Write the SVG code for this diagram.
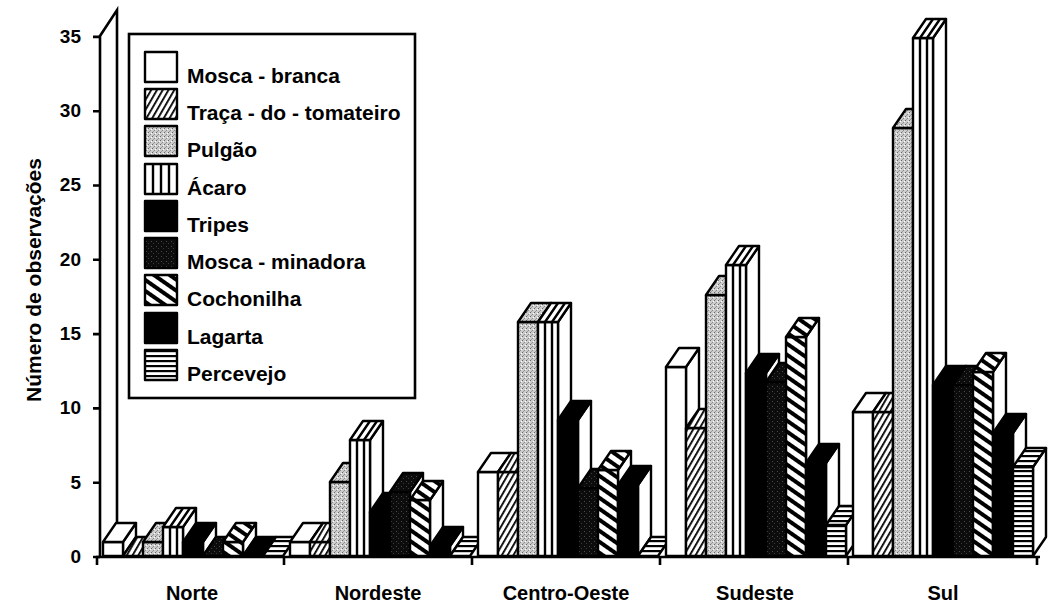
<svg xmlns="http://www.w3.org/2000/svg" width="1053" height="607" viewBox="0 0 1053 607">
<style>
text{font-family:"Liberation Sans",Arial,sans-serif;font-weight:bold;fill:#000}
.bar{stroke:#000;stroke-width:2.4;stroke-linejoin:round}
.sd{fill:#fff}
.mb{fill:#fff}
.tr{fill:url(#pT)}
.pu{fill:url(#pP)}
.ac{fill:#fff}
.tp{fill:#000}
.mm{fill:url(#pM)}
.co{fill:url(#pC)}
.lg{fill:#000}
.pe{fill:url(#pH)}
.ax{stroke:#000;stroke-width:2.6;fill:none}
.tick{font-size:19px;text-anchor:end}
.cat{font-size:20px;text-anchor:middle}
.leg{font-size:21px}
</style>
<defs>
<pattern id="pT" width="5" height="5" patternUnits="userSpaceOnUse" patternTransform="rotate(30)"><rect width="5" height="5" fill="#fff"/><rect width="1.8" height="5" fill="#000"/></pattern>
<pattern id="pC" width="9" height="9" patternUnits="userSpaceOnUse" patternTransform="rotate(35)"><rect width="9" height="9" fill="#fff"/><rect width="9" height="4" fill="#000"/></pattern>
<pattern id="pH" width="5" height="5" patternUnits="userSpaceOnUse"><rect width="5" height="5" fill="#fff"/><rect width="5" height="2.2" fill="#000"/></pattern>
<pattern id="pP" width="4" height="4" patternUnits="userSpaceOnUse"><rect width="4" height="4" fill="#cdcdcd"/><rect x="0" y="0" width="1" height="1" fill="#666"/><rect x="2" y="2" width="1" height="1" fill="#888"/><rect x="3" y="1" width="1" height="1" fill="#fff"/><rect x="1" y="3" width="1" height="1" fill="#999"/></pattern>
<pattern id="pM" width="5" height="5" patternUnits="userSpaceOnUse"><rect width="5" height="5" fill="#0c0c0c"/><rect x="1" y="1" width="1" height="1" fill="#4a4a4a"/><rect x="3" y="3" width="1" height="1" fill="#3a3a3a"/></pattern>
</defs>
<rect width="1053" height="607" fill="#fff"/>

<g id="axes">
<path class="ax" d="M100,557 V36 L117,10 V537"/>
<path class="ax" d="M93,36.9 H100 M93,111.2 H100 M93,185.5 H100 M93,259.8 H100 M93,334.1 H100 M93,408.4 H100 M93,482.7 H100 M93,557 H100"/>
<text class="tick" x="81" y="43">35</text>
<text class="tick" x="81" y="117">30</text>
<text class="tick" x="81" y="191">25</text>
<text class="tick" x="81" y="266">20</text>
<text class="tick" x="81" y="340">15</text>
<text class="tick" x="81" y="414">10</text>
<text class="tick" x="81" y="489">5</text>
<text class="tick" x="81" y="563">0</text>
<text font-size="21" text-anchor="middle" transform="translate(41,280) rotate(-90)">Número de observações</text>
</g>

<g id="legend">
<rect x="129" y="34" width="286" height="364" fill="#fff" stroke="#000" stroke-width="2.6"/>
<g class="bar">
<rect class="mb" x="145" y="52" width="32" height="30"/>
<rect class="tr" x="145" y="89" width="32" height="30"/>
<rect class="pu" x="145" y="126" width="32" height="30"/>
<rect class="ac" x="145" y="164" width="32" height="30"/>
<path d="M153,164V194 M161,164V194 M169,164V194"/>
<rect class="tp" x="145" y="201" width="32" height="30"/>
<rect class="mm" x="145" y="238" width="32" height="30"/>
<rect class="co" x="145" y="275" width="32" height="30"/>
<rect class="lg" x="145" y="313" width="32" height="30"/>
<rect class="pe" x="145" y="350" width="32" height="30"/>
</g>
<text class="leg" x="187" y="83">Mosca - branca</text>
<text class="leg" x="187" y="120">Traça - do - tomateiro</text>
<text class="leg" x="187" y="157">Pulgão</text>
<text class="leg" x="187" y="195">Ácaro</text>
<text class="leg" x="187" y="232">Tripes</text>
<text class="leg" x="187" y="269">Mosca - minadora</text>
<text class="leg" x="187" y="306">Cochonilha</text>
<text class="leg" x="187" y="344">Lagarta</text>
<text class="leg" x="187" y="381">Percevejo</text>
</g>

<!-- Norte -->
<g id="norte-mosca-branca" class="bar" transform="translate(103,0)"><polygon class="sd" points="20,542 33,523 33,537 20,556"/><rect class="mb" x="0" y="542" width="20" height="14"/><polygon class="mb" points="0,542 20,542 33,523 13,523"/></g>
<g id="norte-traca" class="bar" transform="translate(123,0)"><polygon class="tr" points="0,556 20,556 33,537 13,537"/></g>
<g id="norte-pulgao" class="bar" transform="translate(143,0)"><polygon class="sd" points="20,542 33,523 33,537 20,556"/><rect class="pu" x="0" y="542" width="20" height="14"/><polygon class="pu" points="0,542 20,542 33,523 13,523"/></g>
<g id="norte-acaro" class="bar" transform="translate(163,0)"><polygon class="sd" points="20,527 33,508 33,537 20,556"/><rect class="ac" x="0" y="527" width="20" height="29"/><polygon class="ac" points="0,527 20,527 33,508 13,508"/><path d="M7,527V556M14,527V556M7,527L20,508M14,527L27,508"/></g>
<g id="norte-tripes" class="bar" transform="translate(183,0)"><polygon class="sd" points="20,542 33,523 33,537 20,556"/><rect class="tp" x="0" y="542" width="20" height="14"/><polygon class="tp" points="0,542 20,542 33,523 13,523"/></g>
<g id="norte-mosca-minadora" class="bar" transform="translate(203,0)"><polygon class="mm" points="0,556 20,556 33,537 13,537"/></g>
<g id="norte-cochonilha" class="bar" transform="translate(223,0)"><polygon class="sd" points="20,542 33,523 33,537 20,556"/><rect class="co" x="0" y="542" width="20" height="14"/><polygon class="co" points="0,542 20,542 33,523 13,523"/></g>
<g id="norte-lagarta" class="bar" transform="translate(243,0)"><polygon class="lg" points="0,556 20,556 33,537 13,537"/></g>
<g id="norte-percevejo" class="bar" transform="translate(263,0)"><polygon class="pe" points="0,556 20,556 33,537 13,537"/></g>

<!-- Nordeste -->
<g id="nordeste-mosca-branca" class="bar" transform="translate(290,0)"><polygon class="sd" points="20,542 33,523 33,537 20,556"/><rect class="mb" x="0" y="542" width="20" height="14"/><polygon class="mb" points="0,542 20,542 33,523 13,523"/></g>
<g id="nordeste-traca" class="bar" transform="translate(310,0)"><polygon class="sd" points="20,542 33,523 33,537 20,556"/><rect class="tr" x="0" y="542" width="20" height="14"/><polygon class="tr" points="0,542 20,542 33,523 13,523"/></g>
<g id="nordeste-pulgao" class="bar" transform="translate(330,0)"><polygon class="sd" points="20,482 33,463 33,537 20,556"/><rect class="pu" x="0" y="482" width="20" height="74"/><polygon class="pu" points="0,482 20,482 33,463 13,463"/></g>
<g id="nordeste-acaro" class="bar" transform="translate(350,0)"><polygon class="sd" points="20,440 33,421 33,537 20,556"/><rect class="ac" x="0" y="440" width="20" height="116"/><polygon class="ac" points="0,440 20,440 33,421 13,421"/><path d="M7,440V556M14,440V556M7,440L20,421M14,440L27,421"/></g>
<g id="nordeste-tripes" class="bar" transform="translate(370,0)"><polygon class="sd" points="20,512 33,493 33,537 20,556"/><rect class="tp" x="0" y="512" width="20" height="44"/><polygon class="tp" points="0,512 20,512 33,493 13,493"/></g>
<g id="nordeste-mosca-minadora" class="bar" transform="translate(390,0)"><polygon class="sd" points="20,492 33,473 33,537 20,556"/><rect class="mm" x="0" y="492" width="20" height="64"/><polygon class="mm" points="0,492 20,492 33,473 13,473"/></g>
<g id="nordeste-cochonilha" class="bar" transform="translate(410,0)"><polygon class="sd" points="20,500 33,481 33,537 20,556"/><rect class="co" x="0" y="500" width="20" height="56"/><polygon class="co" points="0,500 20,500 33,481 13,481"/></g>
<g id="nordeste-lagarta" class="bar" transform="translate(430,0)"><polygon class="sd" points="20,546 33,527 33,537 20,556"/><rect class="lg" x="0" y="546" width="20" height="10"/><polygon class="lg" points="0,546 20,546 33,527 13,527"/></g>
<g id="nordeste-percevejo" class="bar" transform="translate(450,0)"><polygon class="pe" points="0,556 20,556 33,537 13,537"/></g>

<!-- Centro-Oeste -->
<g id="co-mosca-branca" class="bar" transform="translate(478,0)"><polygon class="sd" points="20,472 33,453 33,537 20,556"/><rect class="mb" x="0" y="472" width="20" height="84"/><polygon class="mb" points="0,472 20,472 33,453 13,453"/></g>
<g id="co-traca" class="bar" transform="translate(498,0)"><polygon class="sd" points="20,472 33,453 33,537 20,556"/><rect class="tr" x="0" y="472" width="20" height="84"/><polygon class="tr" points="0,472 20,472 33,453 13,453"/></g>
<g id="co-pulgao" class="bar" transform="translate(518,0)"><polygon class="sd" points="20,322 33,303 33,537 20,556"/><rect class="pu" x="0" y="322" width="20" height="234"/><polygon class="pu" points="0,322 20,322 33,303 13,303"/></g>
<g id="co-acaro" class="bar" transform="translate(538,0)"><polygon class="sd" points="20,322 33,303 33,537 20,556"/><rect class="ac" x="0" y="322" width="20" height="234"/><polygon class="ac" points="0,322 20,322 33,303 13,303"/><path d="M7,322V556M14,322V556M7,322L20,303M14,322L27,303"/></g>
<g id="co-tripes" class="bar" transform="translate(558,0)"><polygon class="sd" points="20,420 33,401 33,537 20,556"/><rect class="tp" x="0" y="420" width="20" height="136"/><polygon class="tp" points="0,420 20,420 33,401 13,401"/></g>
<g id="co-mosca-minadora" class="bar" transform="translate(578,0)"><polygon class="sd" points="20,488 33,469 33,537 20,556"/><rect class="mm" x="0" y="488" width="20" height="68"/><polygon class="mm" points="0,488 20,488 33,469 13,469"/></g>
<g id="co-cochonilha" class="bar" transform="translate(598,0)"><polygon class="sd" points="20,470 33,451 33,537 20,556"/><rect class="co" x="0" y="470" width="20" height="86"/><polygon class="co" points="0,470 20,470 33,451 13,451"/></g>
<g id="co-lagarta" class="bar" transform="translate(618,0)"><polygon class="sd" points="20,485 33,466 33,537 20,556"/><rect class="lg" x="0" y="485" width="20" height="71"/><polygon class="lg" points="0,485 20,485 33,466 13,466"/></g>
<g id="co-percevejo" class="bar" transform="translate(638,0)"><polygon class="pe" points="0,556 20,556 33,537 13,537"/></g>

<!-- Sudeste -->
<g id="se-mosca-branca" class="bar" transform="translate(666,0)"><polygon class="sd" points="20,367 33,348 33,537 20,556"/><rect class="mb" x="0" y="367" width="20" height="189"/><polygon class="mb" points="0,367 20,367 33,348 13,348"/></g>
<g id="se-traca" class="bar" transform="translate(686,0)"><polygon class="sd" points="20,428 33,409 33,537 20,556"/><rect class="tr" x="0" y="428" width="20" height="128"/><polygon class="tr" points="0,428 20,428 33,409 13,409"/></g>
<g id="se-pulgao" class="bar" transform="translate(706,0)"><polygon class="sd" points="20,295 33,276 33,537 20,556"/><rect class="pu" x="0" y="295" width="20" height="261"/><polygon class="pu" points="0,295 20,295 33,276 13,276"/></g>
<g id="se-acaro" class="bar" transform="translate(726,0)"><polygon class="sd" points="20,265 33,246 33,537 20,556"/><rect class="ac" x="0" y="265" width="20" height="291"/><polygon class="ac" points="0,265 20,265 33,246 13,246"/><path d="M7,265V556M14,265V556M7,265L20,246M14,265L27,246"/></g>
<g id="se-tripes" class="bar" transform="translate(746,0)"><polygon class="sd" points="20,373 33,354 33,537 20,556"/><rect class="tp" x="0" y="373" width="20" height="183"/><polygon class="tp" points="0,373 20,373 33,354 13,354"/></g>
<g id="se-mosca-minadora" class="bar" transform="translate(766,0)"><polygon class="sd" points="20,382 33,363 33,537 20,556"/><rect class="mm" x="0" y="382" width="20" height="174"/><polygon class="mm" points="0,382 20,382 33,363 13,363"/></g>
<g id="se-cochonilha" class="bar" transform="translate(786,0)"><polygon class="sd" points="20,337 33,318 33,537 20,556"/><rect class="co" x="0" y="337" width="20" height="219"/><polygon class="co" points="0,337 20,337 33,318 13,318"/></g>
<g id="se-lagarta" class="bar" transform="translate(806,0)"><polygon class="sd" points="20,463 33,444 33,537 20,556"/><rect class="lg" x="0" y="463" width="20" height="93"/><polygon class="lg" points="0,463 20,463 33,444 13,444"/></g>
<g id="se-percevejo" class="bar" transform="translate(826,0)"><polygon class="sd" points="20,525 33,506 33,537 20,556"/><rect class="pe" x="0" y="525" width="20" height="31"/><polygon class="pe" points="0,525 20,525 33,506 13,506"/></g>

<!-- Sul -->
<g id="sul-mosca-branca" class="bar" transform="translate(853,0)"><polygon class="sd" points="20,412 33,393 33,537 20,556"/><rect class="mb" x="0" y="412" width="20" height="144"/><polygon class="mb" points="0,412 20,412 33,393 13,393"/></g>
<g id="sul-traca" class="bar" transform="translate(873,0)"><polygon class="sd" points="20,412 33,393 33,537 20,556"/><rect class="tr" x="0" y="412" width="20" height="144"/><polygon class="tr" points="0,412 20,412 33,393 13,393"/></g>
<g id="sul-pulgao" class="bar" transform="translate(893,0)"><polygon class="sd" points="20,128 33,109 33,537 20,556"/><rect class="pu" x="0" y="128" width="20" height="428"/><polygon class="pu" points="0,128 20,128 33,109 13,109"/></g>
<g id="sul-acaro" class="bar" transform="translate(913,0)"><polygon class="sd" points="20,38 33,19 33,537 20,556"/><rect class="ac" x="0" y="38" width="20" height="518"/><polygon class="ac" points="0,38 20,38 33,19 13,19"/><path d="M7,38V556M14,38V556M7,38L20,19M14,38L27,19"/></g>
<g id="sul-tripes" class="bar" transform="translate(933,0)"><polygon class="sd" points="20,385 33,366 33,537 20,556"/><rect class="tp" x="0" y="385" width="20" height="171"/><polygon class="tp" points="0,385 20,385 33,366 13,366"/></g>
<g id="sul-mosca-minadora" class="bar" transform="translate(953,0)"><polygon class="sd" points="20,385 33,366 33,537 20,556"/><rect class="mm" x="0" y="385" width="20" height="171"/><polygon class="mm" points="0,385 20,385 33,366 13,366"/></g>
<g id="sul-cochonilha" class="bar" transform="translate(973,0)"><polygon class="sd" points="20,372 33,353 33,537 20,556"/><rect class="co" x="0" y="372" width="20" height="184"/><polygon class="co" points="0,372 20,372 33,353 13,353"/></g>
<g id="sul-lagarta" class="bar" transform="translate(993,0)"><polygon class="sd" points="20,433 33,414 33,537 20,556"/><rect class="lg" x="0" y="433" width="20" height="123"/><polygon class="lg" points="0,433 20,433 33,414 13,414"/></g>
<g id="sul-percevejo" class="bar" transform="translate(1013,0)"><polygon class="sd" points="20,467 33,448 33,537 20,556"/><rect class="pe" x="0" y="467" width="20" height="89"/><polygon class="pe" points="0,467 20,467 33,448 13,448"/></g>

<g id="x-axis">
<path class="ax" d="M96,557 H1040 M97,557 V565 M284,557 V565 M472,557 V565 M660,557 V565 M848,557 V565 M1037,557 V565"/>
<text class="cat" x="192" y="600">Norte</text>
<text class="cat" x="378" y="600">Nordeste</text>
<text class="cat" x="566" y="600">Centro-Oeste</text>
<text class="cat" x="755" y="600">Sudeste</text>
<text class="cat" x="943" y="600">Sul</text>
</g>
</svg>
